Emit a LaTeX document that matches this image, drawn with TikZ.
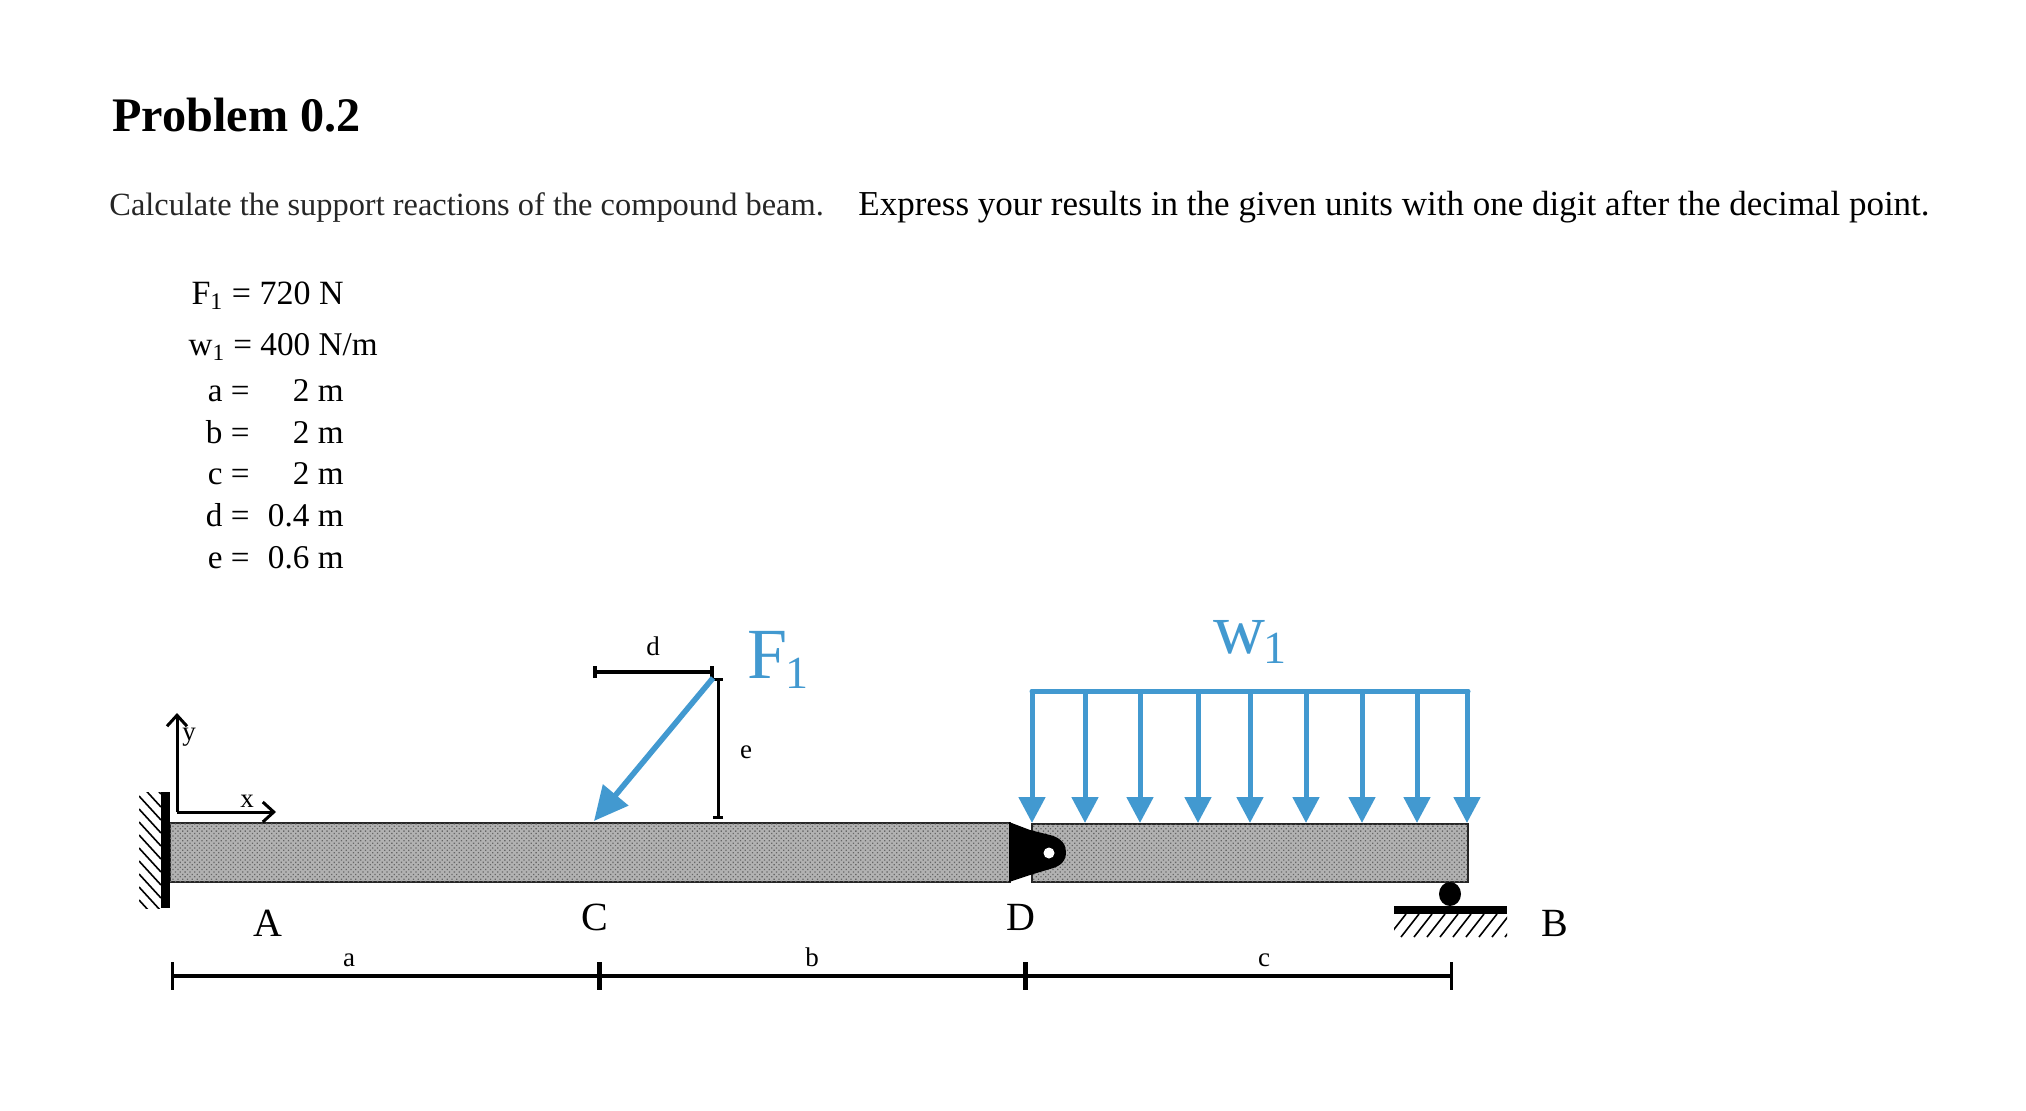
\documentclass[tikz,border=0pt]{standalone}
\usepackage{fontspec}
\setmainfont{Liberation Serif}
\usetikzlibrary{arrows.meta, patterns.meta}
\definecolor{loadblue}{RGB}{66,153,208}
\newcommand{\fs}[1]{\fontsize{#1}{#1}\selectfont}
\newcommand{\bigsub}[1]{\kern-1pt\raisebox{-5pt}{\fs{23}#1}}
\tikzset{
  txt/.style={inner sep=0pt, font=\fs{16.6}},
  dimlabel/.style={inner sep=0pt, font=\fs{13.5}},
  pointlabel/.style={inner sep=0pt, font=\fs{20}},
  forcelabel/.style={inner sep=0pt, text=loadblue, font=\fs{36}},
  beam/.style={draw=black!85, line width=1.1pt, fill=black!30,
    postaction={pattern={Dots[distance=1.7pt, radius=0.45pt, angle=45]}, pattern color=black!60}},
  load/.style={loadblue, line width=2.5pt, -{Triangle[width=13pt, length=13pt]}},
  axis/.style={black, line width=1.5pt, -{Straight Barb[width=10pt, length=5.5pt]}},
  dimline/.style={black, line width=2pt},
  hatch/.style={black, line width=0.8pt}
}

\begin{document}
\begin{tikzpicture}[x=0.5pt, y=-0.5pt]
    \useasboundingbox (0, 0) rectangle (2026, 1110);

    % Text
    \node[inner sep=0pt, anchor=base west, font=\fs{24.1}\bfseries] (title) at (112, 131) {Problem 0.2};
    \node[txt, anchor=base west, font=\fs{16.2}, text=black!85] (intro) at (109, 215) {Calculate the support reactions of the compound beam.};
    \node[txt, anchor=base west, font=\fs{17.5}] (task) at (858, 215) {Express your results in the given units with one digit after the decimal point.};

    % Given values
    \node[txt, anchor=base east, font=\fs{17}] (valF) at (344, 304) {F\textsubscript{1} = 720 N};
    \node[txt, anchor=base east] (valw) at (378, 355) {w\textsubscript{1} = 400 N/m};
    \foreach \n/\v/\y in {a/2 m/401, b/2 m/443, c/2 m/484, d/0.4 m/526, e/0.6 m/568} {
        \node[txt, anchor=base east] (name\n) at (250, \y) {\n\ =};
        \node[txt, anchor=base east] (val\n) at (344, \y) {\v};
    }

    % Points
    \coordinate (A) at (170, 823);
    \coordinate (C) at (594, 823);
    \coordinate (D) at (1010, 882);
    \coordinate (E) at (1032, 824);
    \coordinate (B) at (1468, 882);

    % Beams
    \draw[beam] (A) rectangle (D);
    \draw[beam] (E) rectangle (B);

    % Hinge
    \fill[black] (1009, 822) -- (1030, 830) -- (1050, 835) .. controls (1062, 838) and (1066, 845) .. (1066, 852)
        .. controls (1066, 860) and (1062, 866) .. (1050, 869) -- (1030, 875) -- (1009, 882) -- cycle;
    \fill[white] (1049, 853) circle [radius=5.5];

    % Wall
    \begin{scope}
        \clip (139, 792) rectangle (161, 908);
        \foreach \y in {770, 783, ..., 900} {
            \draw[hatch] (139, \y) -- (161, \y + 24);
        }
    \end{scope}
    \fill[black] (161, 792) rectangle (170, 908);

    % Axes
    \coordinate (origin) at (177, 812);
    \coordinate (xtip) at (276, 812);
    \coordinate (ytip) at (177, 713);
    \draw[axis] (origin) -- (xtip);
    \draw[axis] (origin) -- (ytip);
    \node[dimlabel] (xlabel) at (247, 801) {x};
    \node[dimlabel] (ylabel) at (189, 737) {y};

    % Point force
    \coordinate (Ftop) at (713, 678);
    \coordinate (Ftip) at (594, 821);
    \coordinate (etop) at (718, 678);
    \coordinate (ebot) at (718, 819);
    \coordinate (dleft) at (593, 672);
    \coordinate (dright) at (714, 672);
    \draw[line width=1.8pt, {Bar[width=6pt]}-{Bar[width=6pt]}] (dleft) -- (dright);
    \draw[line width=1.5pt, {Bar[width=5pt]}-{Bar[width=5pt]}] (etop) -- (ebot);
    \draw[loadblue, line width=2.8pt, -{Triangle[width=16pt, length=17pt]}] (Ftop) -- (Ftip);
    \node[forcelabel, anchor=base west] (Flabel) at (747, 678) {F\bigsub{1}};
    \node[dimlabel] (dlabel) at (653, 646) {d};
    \node[dimlabel] (elabel) at (746, 752) {e};

    % Distributed load
    \draw[loadblue, line width=2.5pt, line cap=round] (1032, 691) -- (1468, 691);
    \foreach \x in {1032, 1085, 1140, 1198, 1250, 1306, 1362, 1417, 1467} {
        \draw[load] (\x, 691) -- (\x, 823);
    }
    \node[forcelabel, anchor=base west] (wlabel) at (1213, 653) {w\bigsub{1}};

    % Roller
    \fill[black] (1450, 894) ellipse [x radius=11, y radius=12];
    \fill[black] (1394, 906) rectangle (1507, 914);
    \begin{scope}
        \clip (1394, 914) rectangle (1507, 937);
        \foreach \x in {1394, 1407, ..., 1520} {
            \draw[hatch] (\x - 6, 937) -- (\x + 12, 914);
        }
    \end{scope}

    % Labels
    \node[pointlabel] (Alabel) at (268, 923) {A};
    \node[pointlabel] (Clabel) at (595, 917) {C};
    \node[pointlabel] (Dlabel) at (1021, 917) {D};
    \node[pointlabel] (Blabel) at (1555, 923) {B};

    % Dimensions
    \coordinate (dim0) at (172, 976);
    \coordinate (dim1) at (599, 976);
    \coordinate (dim2) at (1025, 976);
    \coordinate (dim3) at (1451, 976);
    \draw[dimline] (dim0) -- (dim3);
    \draw[black, line width=1.5pt] (172, 962) -- (172, 990);
    \draw[black, line width=2.5pt] (599, 962) -- (599, 990);
    \draw[black, line width=2.5pt] (1025, 962) -- (1025, 990);
    \draw[black, line width=1.5pt] (1451, 962) -- (1451, 990);
    \node[dimlabel] (alabel) at (349, 960) {a};
    \node[dimlabel] (blabel) at (812, 957) {b};
    \node[dimlabel] (clabel) at (1264, 960) {c};
\end{tikzpicture}
\end{document}
